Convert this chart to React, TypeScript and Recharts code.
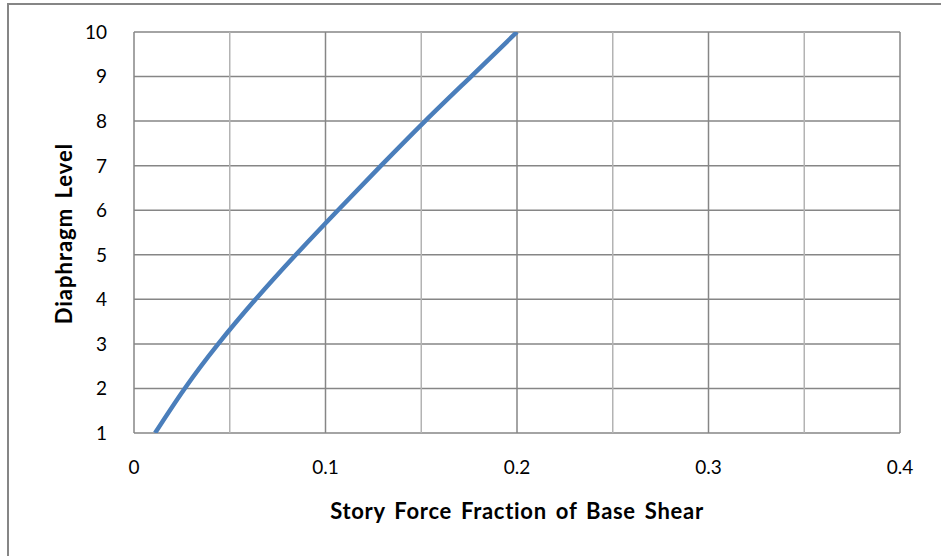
import React from "react";
import { LineChart, Line, XAxis, YAxis, CartesianGrid, ReferenceLine, Label } from "recharts";

// story force fraction at each diaphragm level
const levels = [1, 2, 3, 4, 5, 6, 7, 8, 9, 10];
const storyForce = [0.011, 0.0265, 0.044, 0.0635, 0.0845, 0.1065, 0.129, 0.152, 0.176, 0.2];

const xTicks = [0, 0.1, 0.2, 0.3, 0.4];
const xMinorTicks = [0.05, 0.15, 0.25, 0.35];
const yTicks = [1, 2, 3, 4, 5, 6, 7, 8, 9, 10];

const data = levels.map((level, i) => ({ level, force: storyForce[i] }));

const FONT = "Lato, 'Open Sans', sans-serif";
const GRID = "#868686";

const XTick = ({ x, y, payload }: any) => (
  <text x={x} y={y + 27} dy="0.72em" textAnchor="middle" fontFamily={FONT} fontSize={19} fill="#000">
    {payload.value}
  </text>
);

const YTick = ({ x, y, payload }: any) => (
  <text x={x - 27} y={y} dy="0.36em" textAnchor="end" fontFamily={FONT} fontSize={19} fill="#000">
    {payload.value}
  </text>
);

export default function App() {
  return (
    <div style={{ position: "absolute", left: 0, top: 0, width: 941, height: 556, overflow: "hidden", background: "#fff", fontFamily: FONT }}>
      <style>{`body{overflow:hidden}`}</style>
      <div
        style={{
          position: "absolute",
          left: 7,
          top: 3,
          width: 1000,
          height: 700,
          border: `2px solid ${GRID}`,
        }}
      />
      <div style={{ position: "absolute", left: 0, top: 0 }}>
        <LineChart
          width={941}
          height={556}
          data={data}
          margin={{ top: 32, right: 41, left: 30, bottom: 23 }}
        >
          <CartesianGrid stroke={GRID} strokeWidth={1.5} />
          {xMinorTicks.map((v) => (
            <ReferenceLine key={v} x={v} stroke="#b3b3b3" strokeWidth={1.5} ifOverflow="hidden" />
          ))}
          <XAxis
            type="number"
            dataKey="force"
            domain={[0, 0.4]}
            ticks={xTicks}
            allowDataOverflow
            axisLine={false}
            tickLine={false}
            tickSize={0}
            tickMargin={0}
            height={100}
            tick={<XTick />}
          >
            <Label
              content={({ viewBox }: any) => (
                <text
                  x={viewBox.x + viewBox.width / 2}
                  y={viewBox.y + 86}
                  textAnchor="middle"
                  fontFamily={FONT}
                  fontWeight="bold"
                  fontSize={22}
                  letterSpacing={0.7}
                  wordSpacing={3}
                  fill="#000"
                >
                  Story Force Fraction of Base Shear
                </text>
              )}
            />
          </XAxis>
          <YAxis
            type="number"
            dataKey="level"
            domain={[1, 10]}
            ticks={yTicks}
            interval={0}
            allowDataOverflow
            axisLine={false}
            tickLine={false}
            tickSize={0}
            tickMargin={0}
            width={104}
            tick={<YTick />}
          >
            <Label
              content={({ viewBox }: any) => {
                const cx = viewBox.x + 33;
                const cy = viewBox.y + viewBox.height / 2 + 1;
                return (
                  <text
                    x={cx}
                    y={cy}
                    transform={`rotate(-90 ${cx} ${cy})`}
                    textAnchor="middle"
                    dominantBaseline="central"
                    fontFamily={FONT}
                    fontWeight="bold"
                    fontSize={22}
                    letterSpacing={1}
                    wordSpacing={3}
                    fill="#000"
                  >
                    Diaphragm Level
                  </text>
                );
              }}
            />
          </YAxis>
          <Line
            type="natural"
            dataKey="level"
            stroke="#4a7ebb"
            strokeWidth={4.5}
            dot={false}
            isAnimationActive={false}
          />
        </LineChart>
      </div>
    </div>
  );
}
